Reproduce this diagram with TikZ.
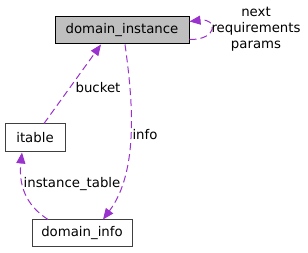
\documentclass[tikz,border=0pt]{standalone}
\usepackage{fontspec}
\setmainfont{DejaVu Sans}
\usetikzlibrary{arrows.meta,calc}
\definecolor{edgec}{HTML}{9A32CD}
\definecolor{boxgrey}{HTML}{BFBFBF}
\definecolor{bordgrey}{HTML}{404040}
\begin{document}
\begin{tikzpicture}[x=1pt,y=-1pt,
  every node/.style={font=\fontsize{13.3}{15}\selectfont, inner sep=0pt},
  cls/.style={draw=bordgrey, line width=1pt, fill=white, minimum height=27pt},
  edge/.style={draw=edgec, dash pattern=on 7pt off 4pt, line width=1pt, -{Stealth[length=11pt,width=9pt,inset=0pt]}},
  lbl/.style={text=black}]
\useasboundingbox (0,0) rectangle (308,253);
\node[cls, draw=black, fill=boxgrey, minimum width=134pt] (di) at (122,30.5) {domain\_instance};
\node[cls, minimum width=60pt, minimum height=28pt] (it) at (35,138) {itable};
\node[cls, minimum width=100pt] (dinfo) at (82,233.5) {domain\_info};
% bucket
\draw[edge] ($(it.north)+(9,0)$) -- ($(di.south)+(-21,0)$);
\node[lbl] (lb) at (98,88) {bucket};
% info
\draw[edge] ($(di.south)+(3,0)$) .. controls (132,95) and (140,170) .. ($(dinfo.north)+(21,0)$);
\node[lbl] (li) at (145,135) {info};
% instance_table
\draw[edge] ($(dinfo.north)+(-34,0)$) .. controls (30,208) and (18,190) .. ($(it.south)+(-13,0)$);
\node[lbl] (lt) at (72,184) {instance\_table};
% self loop
\draw[edge] ($(di.east)+(0,9)$) .. controls (218,40) and (218,18) .. ($(di.east)+(0,-9)$);
\node[lbl] (ln) at (256,12) {next};
\node[lbl] (lr) at (256,29) {requirements};
\node[lbl] (lp) at (256,46) {params};
\end{tikzpicture}
\end{document}
